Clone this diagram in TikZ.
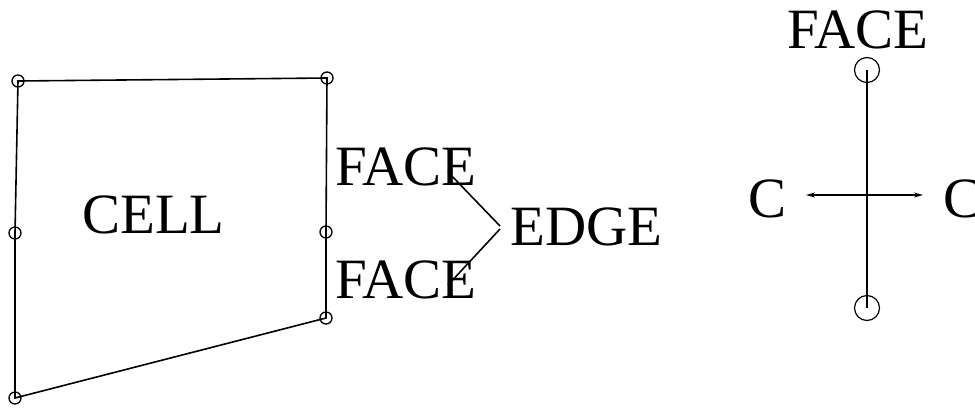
\documentclass[tikz,border=0pt]{standalone}
\usepackage{fontspec}
\setmainfont{Liberation Serif}
\usetikzlibrary{arrows.meta}
\tikzset{
  vtx/.style={draw, circle, minimum size=12pt, inner sep=0pt, line width=1.3pt},
  bigvtx/.style={draw, circle, minimum size=25pt, inner sep=0pt, line width=1.2pt},
  lbl/.style={anchor=base west, inner sep=0pt, font=\fontsize{57}{60}\selectfont},
  ln/.style={line width=1.6pt},
}
\begin{document}
\begin{tikzpicture}[x=1pt, y=-1pt]
\useasboundingbox (0,0) rectangle (975,408);
% cell polygon
\coordinate (p1) at (18,81);
\coordinate (p2) at (327,78);
\coordinate (p3) at (326,232);
\coordinate (p4) at (326,318);
\coordinate (p5) at (15,398);
\coordinate (p6) at (15,233);
\draw[ln] (p1) -- (p2) -- (p3) -- (p4) -- (p5) -- (p6) -- cycle;
\foreach \i in {1,...,6} \node[vtx] (c\i) at (p\i) {};
% labels
\node[lbl] (cell) at (82,233) {CELL};
\node[lbl] (face1) at (335,185) {FACE};
\node[lbl] (face2) at (335,298) {FACE};
\node[lbl] (edge) at (510,245) {EDGE};
% connectors face -> edge
\coordinate (e1) at (448,172);
\coordinate (apex1) at (500,226);
\coordinate (apex2) at (500,229);
\coordinate (e2) at (448,285);
\draw[ln] (e1) -- (apex1);
\draw[ln] (apex2) -- (e2);
% right diagram
\node[lbl] (rface) at (787,48) {FACE};
\node[bigvtx] (ft) at (867,70) {};
\node[bigvtx] (fb) at (867,308) {};
\draw[ln] (ft.center) -- (fb.center);
\coordinate (al) at (806,195);
\coordinate (ar) at (923,195);
\draw[ln, {Stealth[length=9pt,width=5pt]}-{Stealth[length=9pt,width=5pt]}] (al) -- (ar);
\node[lbl] (cl) at (748,217) {C};
\node[lbl] (cr) at (943,217) {C};
\end{tikzpicture}
\end{document}
